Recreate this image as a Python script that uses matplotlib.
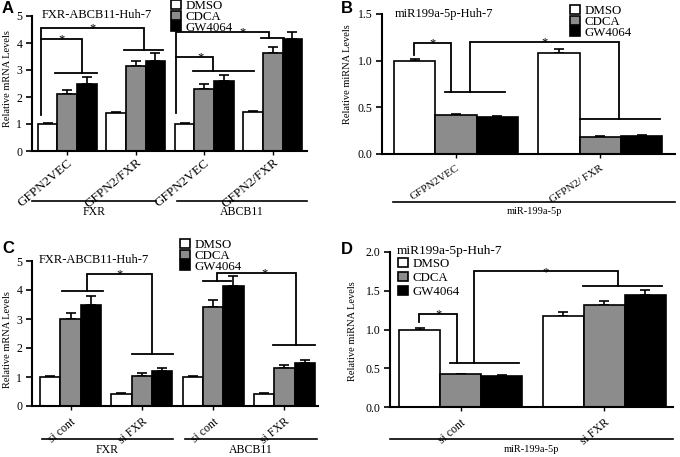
import numpy as np
import matplotlib.pyplot as plt
from matplotlib.patches import Patch

plt.rcParams['font.family'] = ['Liberation Serif', 'DejaVu Serif']

treatments = ['DMSO', 'CDCA', 'GW4064']
bar_colors = ['white', '#8c8c8c', 'black']

# panel A : FXR-ABCB11-Huh-7, overexpression
a_groups = ['GFPN2VEC', 'GFPN2/FXR', 'GFPN2VEC', 'GFPN2/FXR']
a_genes = ['FXR', 'ABCB11']
a_vals = [[1.0, 1.42, 1.0, 1.45],      # DMSO
          [2.1, 3.15, 2.3, 3.62],      # CDCA
          [2.5, 3.32, 2.6, 4.13]]      # GW4064
a_errs = [[0.03, 0.03, 0.02, 0.02],
          [0.15, 0.20, 0.20, 0.25],
          [0.23, 0.30, 0.22, 0.28]]

# panel B : miR199a-5p-Huh-7, overexpression
b_groups = ['GFPN2VEC', 'GFPN2/ FXR']
b_genes = ['miR-199a-5p']
b_vals = [[1.0, 1.08],
          [0.42, 0.18],
          [0.40, 0.19]]
b_errs = [[0.02, 0.04],
          [0.01, 0.01],
          [0.01, 0.01]]

# panel C : FXR-ABCB11-Huh-7, knockdown
c_groups = ['si cont', 'si FXR', 'si cont', 'si FXR']
c_genes = ['FXR', 'ABCB11']
c_vals = [[1.0, 0.42, 1.0, 0.42],
          [3.0, 1.04, 3.4, 1.32],
          [3.5, 1.22, 4.15, 1.50]]
c_errs = [[0.03, 0.02, 0.02, 0.02],
          [0.22, 0.10, 0.25, 0.09],
          [0.30, 0.10, 0.32, 0.10]]

# panel D : miR199a-5p-Huh-7, knockdown
d_groups = ['si cont', 'si FXR']
d_genes = ['miR-199a-5p']
d_vals = [[1.0, 1.18],
          [0.42, 1.32],
          [0.40, 1.45]]
d_errs = [[0.02, 0.04],
          [0.01, 0.05],
          [0.01, 0.06]]

W, H = 680, 457
fig = plt.figure(figsize=(6.8, 4.57), dpi=100)


def px_axes(l, r, t, b):
    return fig.add_axes([l / W, 1 - b / H, (r - l) / W, (b - t) / H])


def bars(ax, vals, errs, groups, xlim, ylim, yticks, yfmt, xfs=9.5, xpad=2, rot=40):
    ng = len(groups)
    base = np.arange(ng) * 3.5
    for i in range(3):
        ax.bar(base + i, vals[i], width=1.0, color=bar_colors[i], edgecolor='black',
               linewidth=1.2, zorder=2)
        ax.errorbar(base + i, vals[i], yerr=[np.zeros(ng), errs[i]], fmt='none',
                    ecolor='black', elinewidth=1.2, capsize=3.5, capthick=1.2, zorder=1)
    ax.set_xlim(*xlim)
    ax.set_ylim(*ylim)
    ax.set_yticks(yticks)
    ax.set_yticklabels([yfmt.format(v) for v in yticks], fontsize=8.5)
    ax.set_xticks(base + 1)
    ax.set_xticklabels(groups, rotation=rot, ha='right', rotation_mode='anchor', fontsize=xfs)
    for s in ['top', 'right']:
        ax.spines[s].set_visible(False)
    for s in ['left', 'bottom']:
        ax.spines[s].set_linewidth(1.5)
    ax.tick_params(axis='y', length=4, width=1.2, pad=3)
    ax.tick_params(axis='x', length=3, width=1.0, pad=xpad)


def sig(ax, x0, y0, y1, x1, y2, hx0, hx1, sx=None):
    ax.plot([x0, x0, x1, x1], [y0, y1, y1, y2], color='black', lw=1.3, clip_on=False,
            solid_joinstyle='miter')
    ax.plot([hx0, hx1], [y2, y2], color='black', lw=1.3, clip_on=False)
    if sx is None:
        sx = (x0 + x1) / 2
    ax.annotate('*', (sx, y1), xytext=(0, -2.5), textcoords='offset points',
                ha='center', va='baseline', fontsize=9)


def under(ax, spans, names, yline, ytext, fs=8.5):
    tr = ax.get_xaxis_transform()
    for (s0, s1), nm in zip(spans, names):
        ax.plot([s0, s1], [yline, yline], color='black', lw=1.2, transform=tr, clip_on=False)
        ax.text((s0 + s1) / 2, ytext, nm, transform=tr, ha='center', va='center', fontsize=fs)


def legend(ax, x, y, sp=-0.12):
    handles = [Patch(facecolor=c, edgecolor='black', linewidth=1.2) for c in bar_colors]
    ax.legend(handles, treatments, loc='upper left', bbox_to_anchor=(x / W, 1 - y / H),
              bbox_transform=fig.transFigure, frameon=False, fontsize=9.3,
              handlelength=0.75, handleheight=0.75, handletextpad=0.35, labelspacing=sp,
              borderpad=0, borderaxespad=0)


# ---- A
ax = px_axes(32, 307, 16, 151)
bars(ax, a_vals, a_errs, a_groups, (-0.8, 13.25), (0, 5), [0, 1, 2, 3, 4, 5], '{:d}',
     xfs=9.5, xpad=1)
ax.set_ylabel('Relative mRNA Levels', fontsize=7.5)
ax.yaxis.set_label_coords(-0.071, 0.537)
ax.text(0.036, 1.007, 'FXR-ABCB11-Huh-7', transform=ax.transAxes, fontsize=9, va='center')
sig(ax, -0.35, 1.33, 4.15, 1.76, 2.9, 0.37, 2.53)
sig(ax, -0.35, 4.15, 4.55, 4.94, 3.74, 3.91, 5.91)
sig(ax, 6.54, 1.4, 3.48, 8.47, 2.96, 7.45, 10.53, sx=7.8)
sig(ax, 6.54, 3.48, 4.4, 11.29, 4.2, 10.88, 12.06, sx=9.96)
under(ax, [(-0.81, 5.51), (6.63, 13.24)], a_genes, -0.37, -0.452)
legend(ax, 171, 0)

# ---- B
ax = px_axes(382, 675, 14, 154)
bars(ax, b_vals, b_errs, b_groups, (-0.79, 6.31), (0, 1.5), [0, 0.5, 1.0, 1.5], '{:.1f}',
     xfs=8, xpad=4, rot=33)
ax.set_ylabel('Relative miRNA Levels', fontsize=7.5)
ax.yaxis.set_label_coords(-0.102, 0.57)
ax.text(0.044, 1.0, 'miR199a-5p-Huh-7', transform=ax.transAxes, fontsize=9, va='center')
sig(ax, -0.02, 1.06, 1.19, 0.88, 0.66, 0.73, 2.2)
sig(ax, 1.34, 0.66, 1.2, 4.96, 0.38, 4.02, 5.95)
under(ax, [(-0.52, 6.31)], b_genes, -0.343, -0.414, fs=7.5)
legend(ax, 570, 5)

# ---- C
ax = px_axes(32, 318, 261, 406)
bars(ax, c_vals, c_errs, c_groups, (-0.89, 13.15), (0, 5), [0, 1, 2, 3, 4, 5], '{:d}',
     xfs=8.5, xpad=4)
ax.set_ylabel('Relative mRNA Levels', fontsize=7.5)
ax.yaxis.set_label_coords(-0.07, 0.455)
ax.text(0.024, 1.007, 'FXR-ABCB11-Huh-7', transform=ax.transAxes, fontsize=9, va='center')
ax.plot([0.58, 2.59], [3.97, 3.97], color='black', lw=1.3)
sig(ax, 1.8, 3.97, 4.55, 4.99, 1.79, 4.01, 6.02)
ax.plot([7.49, 8.86], [4.3, 4.3], color='black', lw=1.3, zorder=3)
sig(ax, 8.18, 4.3, 4.59, 12.05, 2.1, 10.92, 12.98, sx=10.53)
under(ax, [(-0.4, 6.02), (6.6, 13.08)], c_genes, -0.228, -0.303)
legend(ax, 180, 239)

# ---- D
ax = px_axes(390, 673, 252, 407)
bars(ax, d_vals, d_errs, d_groups, (-0.72, 6.17), (0, 2.0), [0, 0.5, 1.0, 1.5, 2.0], '{:.1f}',
     xfs=8.5, xpad=4)
ax.set_ylabel('Relative miRNA Levels', fontsize=7.5)
ax.yaxis.set_label_coords(-0.117, 0.49)
ax.text(0.025, 1.006, 'miR199a-5p-Huh-7', transform=ax.transAxes, fontsize=9.6, va='center')
sig(ax, -0.01, 1.1, 1.2, 0.91, 0.57, 0.74, 2.42)
sig(ax, 1.32, 0.57, 1.75, 4.83, 1.56, 3.98, 5.9)
under(ax, [(-0.72, 6.17)], d_genes, -0.206, -0.277, fs=7.5)
legend(ax, 398, 258, sp=0.12)

for lab, x, y in [('A', 2, 1), ('B', 341, 1), ('C', 2, 241), ('D', 341, 242)]:
    fig.text(x / W, 1 - y / H, lab, fontsize=12, fontweight='bold', va='top',
             family=['Liberation Sans', 'DejaVu Sans'])

fig.savefig('out.png', dpi=100)
